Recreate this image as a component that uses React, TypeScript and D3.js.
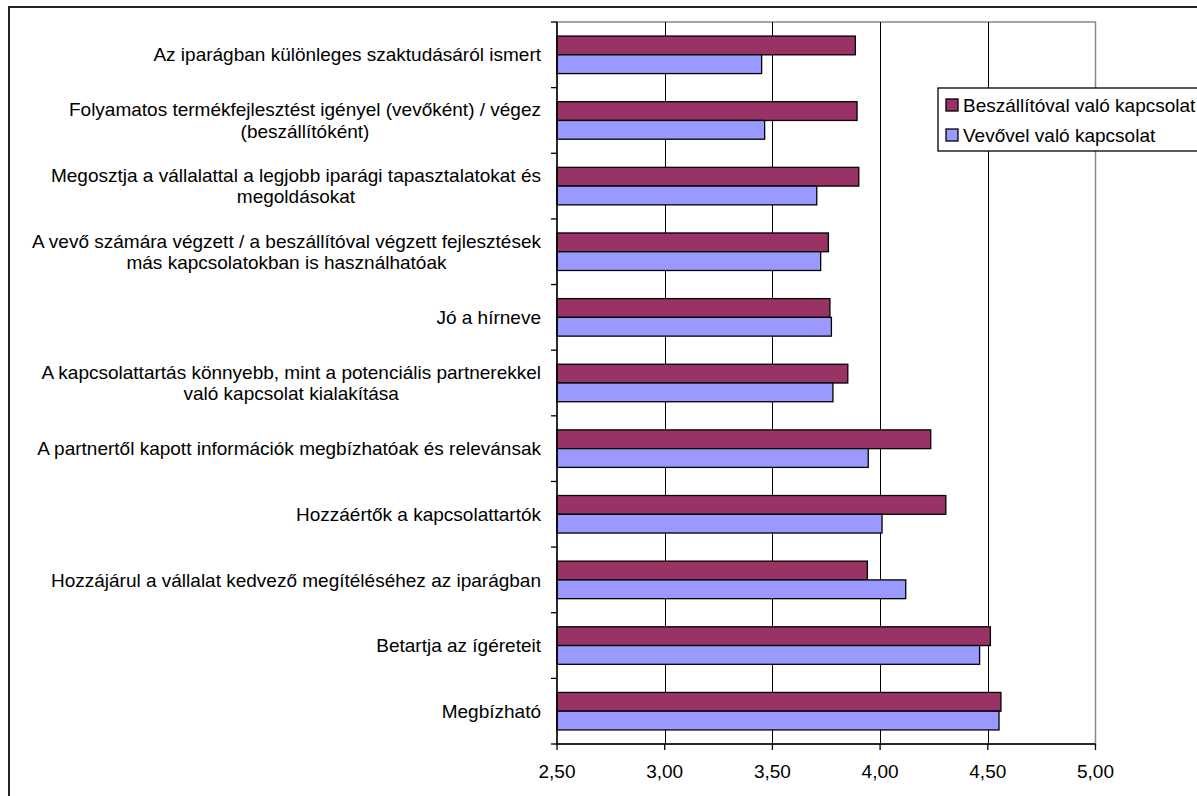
import React, { useEffect, useRef } from "react";
import * as d3 from "d3";

const categories: string[][] = [
  ["Az iparágban különleges szaktudásáról ismert"],
  ["Folyamatos termékfejlesztést igényel (vevőként) / végez", "(beszállítóként)"],
  ["Megosztja a vállalattal a legjobb iparági tapasztalatokat és", "megoldásokat"],
  ["A vevő számára végzett / a beszállítóval végzett fejlesztések", "más kapcsolatokban is használhatóak"],
  ["Jó a hírneve"],
  ["A kapcsolattartás könnyebb, mint a potenciális partnerekkel", "való kapcsolat kialakítása"],
  ["A partnertől kapott információk megbízhatóak és relevánsak"],
  ["Hozzáértők a kapcsolattartók"],
  ["Hozzájárul a vállalat kedvező megítéléséhez az iparágban"],
  ["Betartja az ígéreteit"],
  ["Megbízható"],
];

const beszallitoval: number[] = [3.885, 3.893, 3.901, 3.76, 3.767, 3.85, 4.235, 4.305, 3.941, 4.512, 4.561];
const vevovel: number[] = [3.45, 3.464, 3.706, 3.724, 3.774, 3.781, 3.945, 4.009, 4.119, 4.462, 4.552];

const seriesNames: string[] = ["Beszállítóval való kapcsolat", "Vevővel való kapcsolat"];
const seriesColors: string[] = ["#993366", "#9999FF"];
const xTicks: number[] = [2.5, 3.0, 3.5, 4.0, 4.5, 5.0];

export default function App() {
  const ref = useRef<SVGSVGElement | null>(null);

  useEffect(() => {
    document.body.style.margin = "0";
    const svg = d3.select(ref.current);
    svg.selectAll("*").remove();
    const font = "'Liberation Sans', Arial, sans-serif";
    const fs = 19;

    const left = 557, right = 1095.5, top = 22, bottom = 744;
    const x = d3.scaleLinear().domain([2.5, 5]).range([left, right]);
    const y = d3.scaleBand<number>().domain(d3.range(categories.length)).range([top, bottom]).paddingInner(0).paddingOuter(0);
    const band = y.bandwidth();
    const barH = band / 3.5;
    const gapTop = barH * 0.75;

    // outer chart border
    svg.append("rect").attr("x", 9).attr("y", 7).attr("width", 1300).attr("height", 900)
      .attr("fill", "#fff").attr("stroke", "#222").attr("stroke-width", 2);

    // plot area border
    svg.append("rect").attr("x", left).attr("y", top).attr("width", right - left).attr("height", bottom - top)
      .attr("fill", "none").attr("stroke", "#888").attr("stroke-width", 1.5);

    // gridlines
    svg.append("g").selectAll("line").data(xTicks.slice(1, -1)).join("line")
      .attr("x1", (d) => Math.round(x(d)) + 0.5).attr("x2", (d) => Math.round(x(d)) + 0.5)
      .attr("y1", top).attr("y2", bottom).attr("stroke", "#000").attr("stroke-width", 1);

    // bars
    const series = [beszallitoval, vevovel];
    series.forEach((vals, si) => {
      svg.append("g").selectAll("rect").data(vals).join("rect")
        .attr("x", x(2.5))
        .attr("y", (_, i) => (y(i) as number) + gapTop + si * barH)
        .attr("width", (d) => x(d) - x(2.5))
        .attr("height", barH)
        .attr("fill", seriesColors[si])
        .attr("stroke", "#000")
        .attr("stroke-width", 1.3);
    });

    // y axis
    svg.append("line").attr("x1", left).attr("x2", left).attr("y1", top).attr("y2", bottom)
      .attr("stroke", "#000").attr("stroke-width", 1.5);
    svg.append("g").selectAll("line").data(d3.range(categories.length + 1)).join("line")
      .attr("x1", left - 6).attr("x2", left)
      .attr("y1", (i) => top + i * band).attr("y2", (i) => top + i * band)
      .attr("stroke", "#000").attr("stroke-width", 1.3);

    // x axis
    svg.append("line").attr("x1", left).attr("x2", right).attr("y1", bottom).attr("y2", bottom)
      .attr("stroke", "#000").attr("stroke-width", 1.5);
    svg.append("g").selectAll("line").data(xTicks).join("line")
      .attr("x1", (d) => x(d)).attr("x2", (d) => x(d))
      .attr("y1", bottom).attr("y2", bottom + 6)
      .attr("stroke", "#000").attr("stroke-width", 1.3);
    const fmt = (d: number) => d3.format(".2f")(d).replace(".", ",");
    svg.append("g").selectAll("text").data(xTicks).join("text")
      .attr("x", (d) => x(d)).attr("y", 778)
      .attr("text-anchor", "middle")
      .attr("font-family", font).attr("font-size", fs).attr("fill", "#000")
      .text((d) => fmt(d));

    // category labels
    const labelRight = 541;
    const lineH = 21.5;
    categories.forEach((lines, i) => {
      const g = svg.append("g");
      const cy = (y(i) as number) + band / 2;
      const texts = lines.map((ln, li) =>
        g.append("text")
          .attr("font-family", font).attr("font-size", fs).attr("fill", "#000")
          .attr("y", cy + (li - (lines.length - 1) / 2) * lineH + fs * 0.35)
          .attr("text-anchor", "middle")
          .text(ln)
      );
      const widths = texts.map((t) => (t.node() as SVGTextElement).getComputedTextLength());
      const maxW = Math.max(...widths);
      texts.forEach((t) => t.attr("x", labelRight - maxW / 2));
    });

    // legend
    const lg = svg.append("g");
    lg.append("rect").attr("x", 938).attr("y", 88).attr("width", 300).attr("height", 63)
      .attr("fill", "#fff").attr("stroke", "#000").attr("stroke-width", 1.3);
    seriesNames.forEach((name, i) => {
      const cy = 105 + i * 30;
      lg.append("rect").attr("x", 946).attr("y", cy - 6).attr("width", 12).attr("height", 12)
        .attr("fill", seriesColors[i]).attr("stroke", "#000").attr("stroke-width", 1.3);
      lg.append("text").attr("x", 963).attr("y", cy + 7)
        .attr("font-family", font).attr("font-size", fs).attr("fill", "#000")
        .text(name);
    });
  }, []);

  return (
    <svg ref={ref} width={1197} height={796} style={{ display: "block", background: "#fff" }} />
  );
}
